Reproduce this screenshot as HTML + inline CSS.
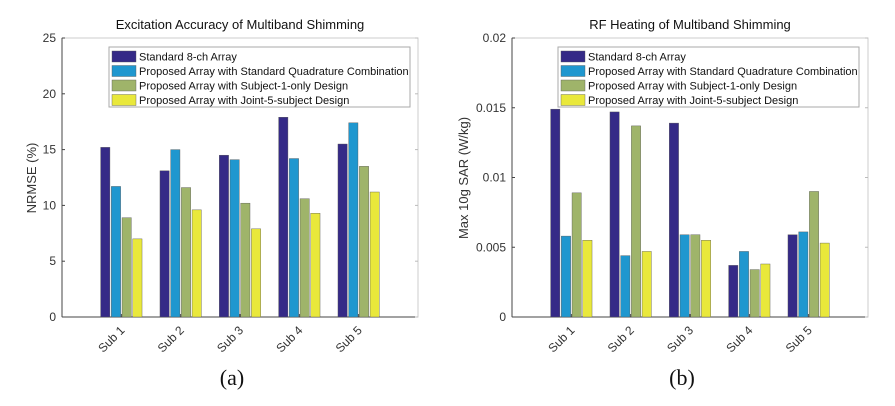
<!DOCTYPE html>
<html><head><meta charset="utf-8"><style>
body{margin:0;background:#fff;width:895px;height:401px;overflow:hidden}
svg{font-family:"Liberation Sans",sans-serif}
</style></head><body>
<svg id="s" width="895" height="401"></svg>
<script>
const categories=["Sub 1","Sub 2","Sub 3","Sub 4","Sub 5"];
const seriesNames=["Standard 8-ch Array","Proposed Array with Standard Quadrature Combination","Proposed Array with Subject-1-only Design","Proposed Array with Joint-5-subject Design"];
const nrmseStandard=[15.2,13.1,14.5,17.9,15.5];
const nrmseQuad=[11.7,15.0,14.1,14.2,17.4];
const nrmseSub1=[8.9,11.6,10.2,10.6,13.5];
const nrmseJoint=[7.0,9.6,7.9,9.3,11.2];
const sarStandard=[0.0149,0.0147,0.0139,0.0037,0.0059];
const sarQuad=[0.0058,0.0044,0.0059,0.0047,0.0061];
const sarSub1=[0.0089,0.0137,0.0059,0.0034,0.0090];
const sarJoint=[0.0055,0.0047,0.0055,0.0038,0.0053];
const nrmseTicks=["0","5","10","15","20","25"];
const sarTicks=["0","0.005","0.01","0.015","0.02"];
const colors=["#352a87","#1f97cf","#9fb46a","#e9e83b"];
const NS="http://www.w3.org/2000/svg";
const svg=document.getElementById('s');
function mk(t,a,p){const e=document.createElementNS(NS,t);for(const k in a)e.setAttribute(k,a[k]);(p||svg).appendChild(e);return e;}
function chart(o){
  const g=mk('g',{});
  
  
  const x0=o.x0,x1=o.x1,y0=38,y1=317;
  const xs=v=>x0+(x1-x0)*v/6;
  const ys=v=>y1-(y1-y0)*v/o.ymax;
  const bg=mk('rect',{x:x0,y:y0,width:x1-x0,height:y1-y0,fill:'#fff',stroke:'#ccc','stroke-width':1},g);
  
  
  mk('line',{x1:x0,y1:y0,x2:x0,y2:y1,stroke:'#444'},g);
  mk('line',{x1:x0,y1:y1,x2:x1,y2:y1,stroke:'#444'},g);
  o.ticks.forEach(t=>{const v=parseFloat(t),y=ys(v);
    mk('line',{x1:x0,y1:y,x2:x0+3,y2:y,stroke:'#444'},g);
    mk('line',{x1:x1,y1:y,x2:x1-3,y2:y,stroke:'#bbb'},g);
    const tx=mk('text',{x:x0-6,y:y+4,'text-anchor':'end','font-size':12,fill:'#333'},g);tx.textContent=t;
    
    
  });
  const pitch=10.7,bw=9.3;
  categories.forEach((c,i)=>{const cx=xs(i+1);
    mk('line',{x1:cx,y1:y1,x2:cx,y2:y1-3,stroke:'#444'},g);
    o.series.forEach((arr,j)=>{const bx=cx+(j-1.5)*pitch-bw/2,v=arr[i];
      const r=mk('rect',{x:bx,y:ys(v),width:bw,height:y1-ys(v),fill:colors[j],stroke:'#555','stroke-width':0.4},g);
      
      
    });
    const lx=cx+4,ly=y1+14;
    const tl=mk('text',{x:lx,y:ly,'text-anchor':'end','font-size':12,fill:'#333',transform:`rotate(-45 ${lx} ${ly})`},g);tl.textContent=c;
    
    
  });
  const ti=mk('text',{x:(x0+x1)/2,y:29,'text-anchor':'middle','font-size':13,fill:'#111'},g);ti.textContent=o.title;
  
  
  const yl=mk('text',{x:o.ylx,y:178,'text-anchor':'middle','font-size':13,fill:'#333',transform:`rotate(-90 ${o.ylx} 178)`},g);yl.textContent=o.ylabel;
  
  
  const lg=mk('g',{},g);
  
  
  mk('rect',{x:o.lx,y:47,width:o.lw,height:60,fill:'#fff',stroke:'#aaa'},lg);
  seriesNames.forEach((n,j)=>{const yy=50+j*14.5;
    mk('rect',{x:o.lx+3,y:yy+1,width:24,height:11,fill:colors[j],stroke:'#555','stroke-width':0.4},lg);
    const t=mk('text',{x:o.lx+30,y:yy+10.5,'font-size':11,fill:'#111'},lg);t.textContent=n;
    
    
  });
  const cap=mk('text',{x:(x0+x1)/2-8,y:385,'text-anchor':'middle','font-size':22,fill:'#111','font-family':'"Liberation Serif",serif'},g);cap.textContent=o.cap;
  
  
}
chart({name:'nrmse-chart',x0:62,x1:418,ymax:25,ticks:nrmseTicks,series:[nrmseStandard,nrmseQuad,nrmseSub1,nrmseJoint],title:'Excitation Accuracy of Multiband Shimming',ylabel:'NRMSE (%)',ylx:36,lx:109,lw:301,cap:'(a)'});
chart({name:'sar-chart',x0:512,x1:868,ymax:0.02,ticks:sarTicks,series:[sarStandard,sarQuad,sarSub1,sarJoint],title:'RF Heating of Multiband Shimming',ylabel:'Max 10g SAR (W/kg)',ylx:468,lx:558,lw:301,cap:'(b)'});
</script>
</body></html>
